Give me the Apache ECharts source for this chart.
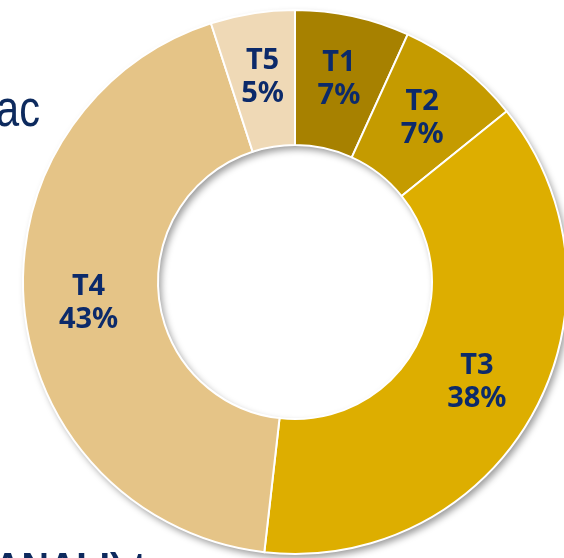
<!DOCTYPE html>
<html><head><meta charset="utf-8">
<script src="https://cdn.jsdelivr.net/npm/echarts@6/dist/echarts.min.js"></script>
<style>html,body{margin:0;padding:0;background:#fff}#main{width:564px;height:558px}</style>
</head><body>
<div id="main"></div>
<script>
// slice names and values (percent of total)
var names = ['T1', 'T2', 'T3', 'T4', 'T5'];
var values = [6.8, 7.4, 37.6, 43.2, 5.0];
var colors = ['#A78100', '#C59B00', '#DDAE00', '#E5C487', '#EFD9B6'];

var chart = echarts.init(document.getElementById('main'));

var pieData = names.map(function (n, i) {
  return { name: n, value: values[i], itemStyle: { color: colors[i] } };
});

chart.setOption({
  backgroundColor: '#fff',
  animation: false,
  graphic: [
    { type: 'text', left: -4, top: 86, z: 10, scaleX: 0.8,
      style: { text: 'ac', font: '52px "Liberation Sans Narrow", "Liberation Sans", sans-serif', fill: '#0D2A5E' } },
    { type: 'text', left: -6, top: 551, z: 10,
      style: { text: 'ANALI) t', font: 'bold 38px "Liberation Sans", sans-serif', fill: '#0D2A5E', letterSpacing: 6 } }
  ],
  series: [
    {
      // ring behind the slices, only for the drop shadow
      type: 'pie',
      silent: true,
      center: [295, 282],
      radius: [137, 272],
      label: { show: false },
      labelLine: { show: false },
      itemStyle: { color: '#fff', shadowBlur: 7, shadowColor: 'rgba(0,0,0,0.4)', shadowOffsetX: 3, shadowOffsetY: 4 },
      data: [{ value: 1 }],
      z: 1
    },
    {
      type: 'pie',
      center: [295, 282],
      radius: [137, 272],
      startAngle: 90,
      clockwise: true,
      percentPrecision: 0,
      itemStyle: { borderColor: '#fff', borderWidth: 2 },
      label: {
        show: true,
        position: 'inside',
        formatter: '{b}\n{d}%',
        color: '#0C2A6A',
        fontFamily: '"Noto Sans", sans-serif',
        fontWeight: 'bold',
        fontSize: 29,
        lineHeight: 33
      },
      labelLine: { show: false },
      data: pieData,
      z: 2
    }
  ]
});
</script>
</body></html>
